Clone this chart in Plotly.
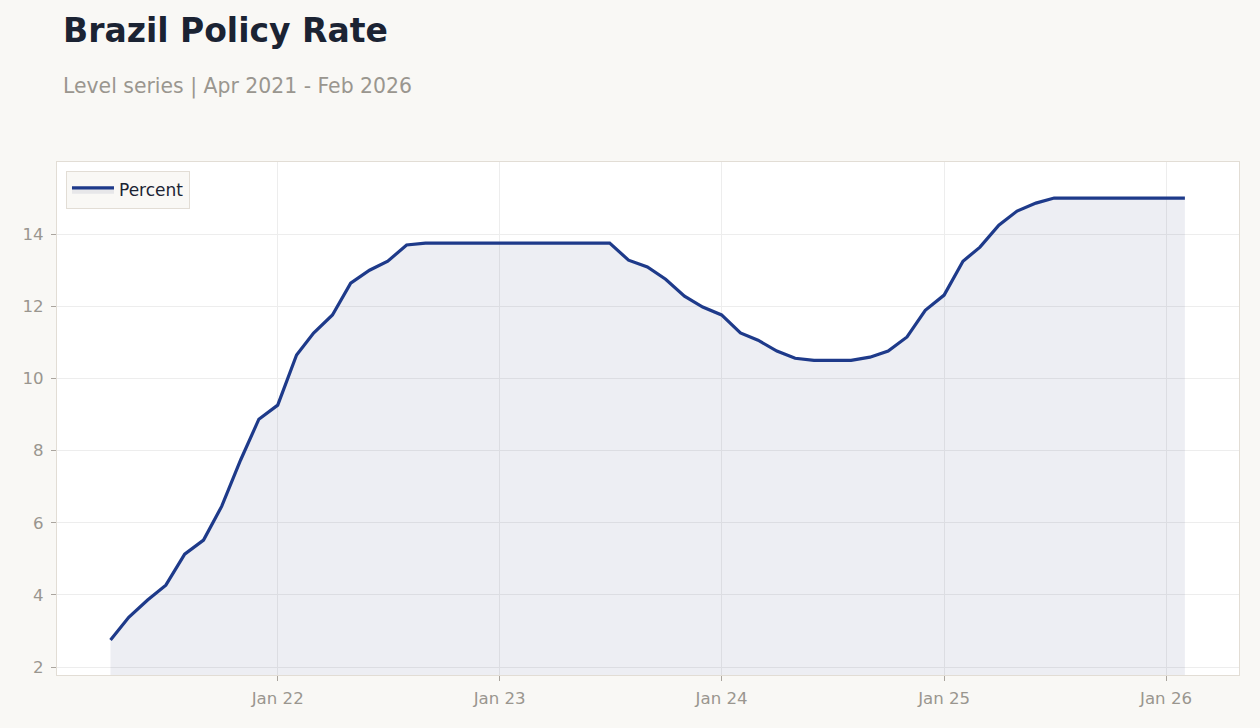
import plotly.graph_objects as go
import pandas as pd

dates = pd.date_range("2021-04-01", "2026-02-01", freq="MS")
percent = [
    2.75, 3.38, 3.86, 4.27, 5.13, 5.52, 6.46, 7.74, 8.87,                                 # Apr-Dec 2021
    9.26, 10.65, 11.26, 11.76, 12.64, 13.00, 13.25, 13.70, 13.75, 13.75, 13.75, 13.75,   # 2022
    13.75, 13.75, 13.75, 13.75, 13.75, 13.75, 13.75, 13.28, 13.09, 12.75, 12.28, 11.98,  # 2023
    11.76, 11.26, 11.06, 10.76, 10.56, 10.50, 10.50, 10.50, 10.59, 10.76, 11.15, 11.89,  # 2024
    12.31, 13.25, 13.64, 14.25, 14.64, 14.86, 15.00, 15.00, 15.00, 15.00, 15.00, 15.00,  # 2025
    15.00, 15.00,                                                                        # 2026
]
tick_vals = ["2022-01-01", "2023-01-01", "2024-01-01", "2025-01-01", "2026-01-01"]
tick_text = ["Jan 22", "Jan 23", "Jan 24", "Jan 25", "Jan 26"]
y_ticks = [2, 4, 6, 8, 10, 12, 14]

FONT = "DejaVu Sans"
LINE = "#1e3a8a"
GRID = "#ededed"
FRAME = "#e2ddd5"
MUTED = "#9a968f"

fig = go.Figure()
fig.add_trace(go.Scatter(
    x=dates, y=percent, name="Percent", mode="lines",
    line=dict(color=LINE, width=3.2),
    fill="tozeroy", fillcolor="rgba(20,30,90,0.075)",
))

fig.update_layout(
    width=1260, height=728,
    margin=dict(l=57, r=21, t=162, b=53),
    paper_bgcolor="#f9f8f5",
    plot_bgcolor="#ffffff",
    font=dict(family=FONT, size=16, color=MUTED),
    showlegend=True,
    legend=dict(
        x=0.0076, y=0.982, xanchor="left", yanchor="top",
        bgcolor="#f9f8f5", bordercolor=FRAME, borderwidth=1,
        itemwidth=42,
        font=dict(family=FONT, size=17, color="#1b2333"),
    ),
    annotations=[
        dict(text="<b>Brazil Policy Rate</b>", xref="paper", yref="paper",
             x=0.0034, y=1.2554, xanchor="left", yanchor="middle", showarrow=False,
             font=dict(family=FONT, size=33, color="#1b2333")),
        dict(text="Level series | Apr 2021 - Feb 2026", xref="paper", yref="paper",
             x=0.0034, y=1.148, xanchor="left", yanchor="middle", showarrow=False,
             font=dict(family=FONT, size=20.4, color=MUTED)),
    ],
)
fig.update_xaxes(
    range=["2021-01-03", "2026-05-01"],
    tickvals=tick_vals, ticktext=tick_text,
    showgrid=True, gridcolor=GRID, gridwidth=1,
    showline=True, linecolor=FRAME, linewidth=1, mirror=True,
    ticks="outside", ticklen=5, tickcolor="#aaa59e",
    ticklabelstandoff=3,
    tickfont=dict(family=FONT, size=16.6, color=MUTED),
    zeroline=False,
)
fig.update_yaxes(
    range=[1.78, 16.0],
    tickvals=y_ticks,
    showgrid=True, gridcolor=GRID, gridwidth=1,
    showline=True, linecolor=FRAME, linewidth=1, mirror=True,
    ticks="outside", ticklen=5, tickcolor="#aaa59e",
    ticklabelstandoff=4,
    tickfont=dict(family=FONT, size=16.6, color=MUTED),
    zeroline=False,
)

fig.write_html("out.html")
